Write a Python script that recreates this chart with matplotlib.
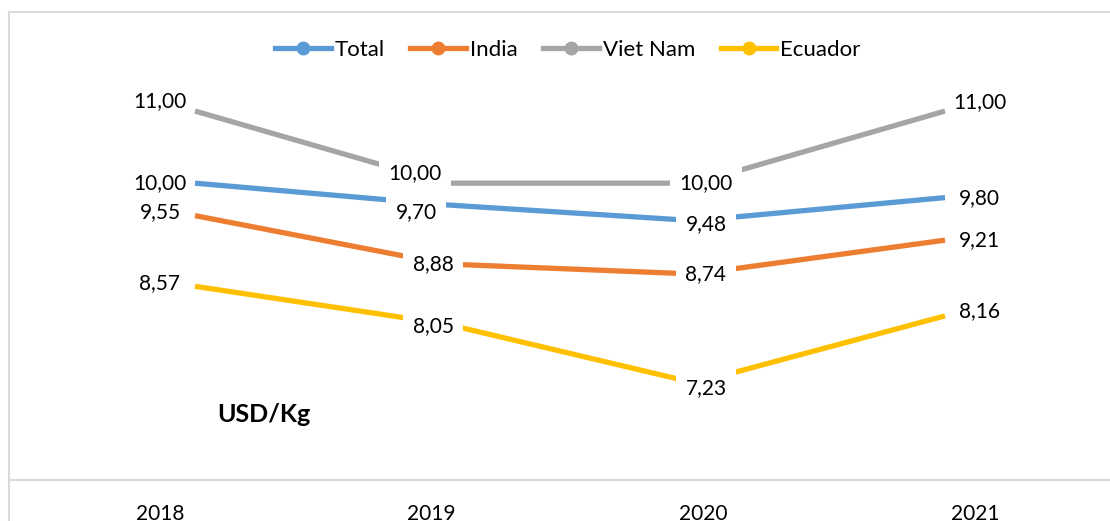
import matplotlib
matplotlib.use("Agg")
import matplotlib.pyplot as plt
from matplotlib.lines import Line2D

# data
years = ["2018", "2019", "2020", "2021"]
total = [10.00, 9.70, 9.48, 9.80]
india = [9.55, 8.88, 8.74, 9.21]
vietnam = [11.00, 10.00, 10.00, 11.00]
ecuador = [8.57, 8.05, 7.23, 8.16]

series = [("Total", total, "#5B9BD5"),
          ("India", india, "#ED7D31"),
          ("Viet Nam", vietnam, "#A5A5A5"),
          ("Ecuador", ecuador, "#FFC000")]

# label offsets in pixels (dx, dy) per series and year
offsets = {
    "Viet Nam": [(-35, 10), (-30, 10), (11, 0), (35, 9)],
    "Total": [(-35, 0), (-29, -7), (11, -3), (34, 0)],
    "India": [(-35, 4), (-12, 0), (11, 0), (34, 0)],
    "Ecuador": [(-35, 3), (-12, -2), (11, -5), (34, 5)],
}

plt.rcParams['font.family'] = ['Lato', 'DejaVu Sans']

W, H = 1110, 521
fig = plt.figure(figsize=(W / 100, H / 100), dpi=100)
ax = fig.add_axes([10 / W, 1 - 480 / H, 1 - 10 / W, (480 - 12) / H])

xs = list(range(len(years)))
for name, vals, col in series:
    ax.plot(xs, vals, color=col, lw=3.8, solid_capstyle='butt', zorder=2)

for name, vals, col in series:
    for i, v in enumerate(vals):
        dx, dy = offsets[name][i]
        bb = None
        if i in (1, 2):
            bb = dict(boxstyle='square,pad=0.45', fc='white', ec='none')
        ax.annotate(f"{v:.2f}".replace('.', ','), (xs[i], v),
                    xytext=(dx, dy), textcoords='offset pixels',
                    ha='center', va='center', fontsize=15, color='black',
                    bbox=bb, zorder=3)

ax.set_xlim(-0.74, 3.66)
ax.set_ylim(5.885, 12.373)
for s in ['top', 'left', 'right']:
    ax.spines[s].set_visible(False)
ax.spines['bottom'].set_color('#d9d9d9')
ax.spines['bottom'].set_linewidth(1.5)
ax.set_yticks([])
ax.set_xticks([])

# category labels
ax2 = ax.twiny()
ax2.set_xlim(-0.552, 3.497)
ax2.xaxis.set_ticks_position('bottom')
ax2.set_xticks(xs)
ax2.set_xticklabels(years, fontsize=15)
ax2.tick_params(axis='x', length=0, pad=17)
for s in ax2.spines.values():
    s.set_visible(False)

# legend
handles = [Line2D([], [], color=c, lw=3.8, marker='o', markersize=9) for _, _, c in series]
fig.legend(handles, [n for n, _, _ in series], loc='center', ncol=4,
           bbox_to_anchor=(568 / W, 1 - 50 / H), frameon=False, fontsize=16,
           handlelength=2.5, handletextpad=0.18, columnspacing=1.15)

fig.text(217 / W, 1 - 414 / H, "USD/Kg", fontsize=18, fontweight='bold',
         ha='left', va='center')

# chart border (left and top visible)
fig.add_artist(Line2D([9 / W, 9 / W], [0, 1 - 12 / H], color='#d9d9d9', lw=1.5))
fig.add_artist(Line2D([9 / W, 1], [1 - 12 / H, 1 - 12 / H], color='#d9d9d9', lw=1.5))

fig.savefig("out.png", dpi=100)
